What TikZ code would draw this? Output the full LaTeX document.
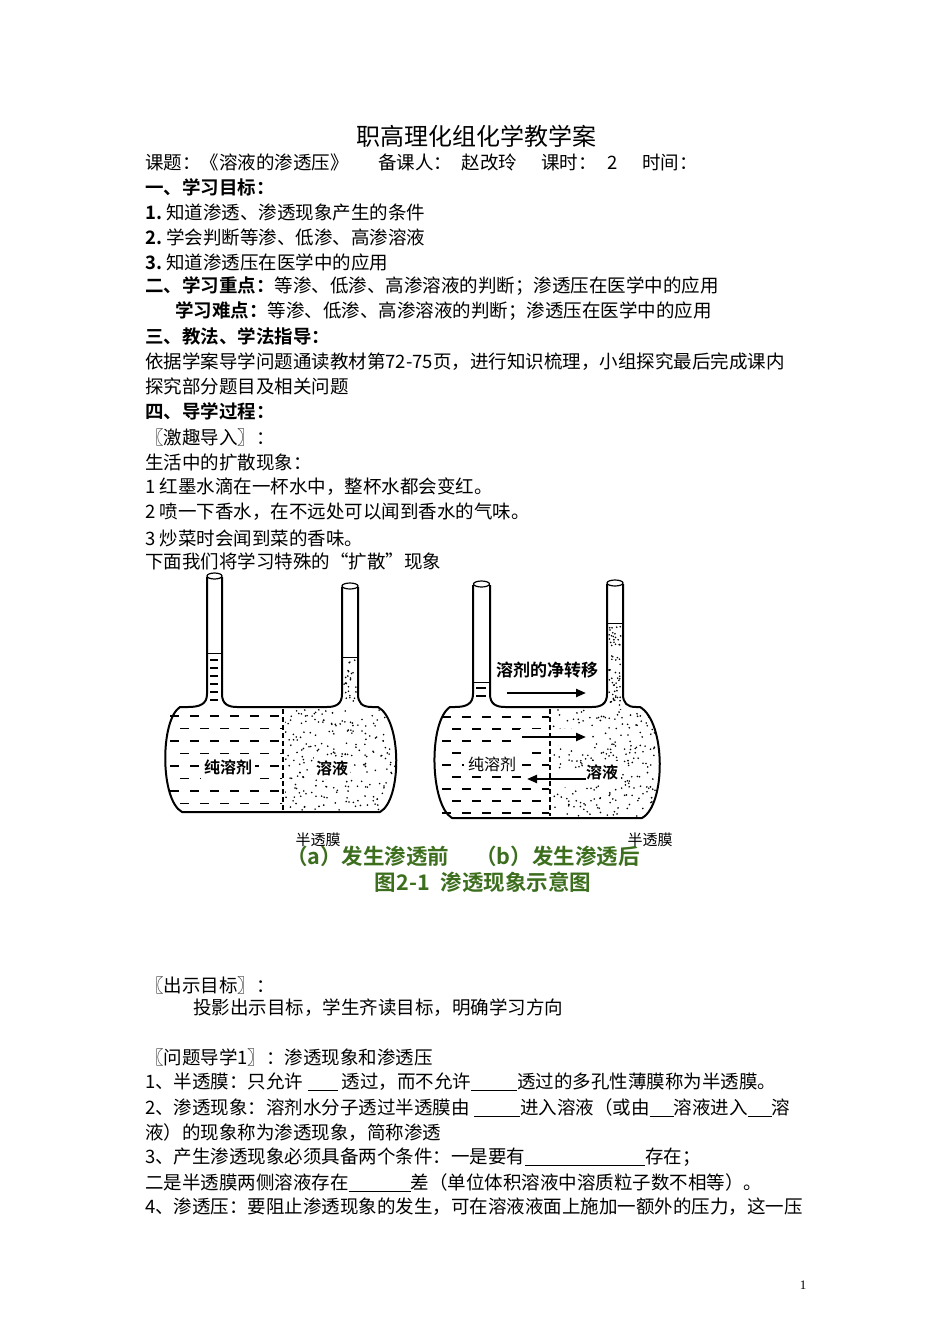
\documentclass[tikz,border=0pt]{standalone}
\usepackage{fontspec}
\usetikzlibrary{arrows.meta}
\setmainfont{Noto Sans CJK SC}[BoldFont={Noto Sans CJK SC Bold}]
\newfontfamily\serifnum{Liberation Serif}
\definecolor{capgreen}{RGB}{60,110,30}
\newcommand{\blank}[1]{\rule[-2pt]{#1pt}{0.7pt}}
\begin{document}
\begin{tikzpicture}[x=1pt,y=-1pt,
  ln/.style={anchor=west,inner sep=0pt,font=\fontsize{18.5}{20}\selectfont},
  lbl/.style={inner sep=0pt,font=\bfseries\fontsize{16}{17}\selectfont},
  vessel/.style={line width=2pt,line join=round},
  arr/.style={line width=2.2pt,-{Triangle[length=10pt,width=8pt]}},
  captxt/.style={inner sep=0pt,text=capgreen,font=\bfseries\fontsize{21.5}{22}\selectfont}]
\useasboundingbox[fill=white] (0,0) rectangle (950,1344);
% ---------- text above
\node[inner sep=0pt,font=\fontsize{24}{25}\selectfont] (title) at (476,136) {职高理化组化学教学案};
\node[ln] (l1) at (145,162) {课题：《溶液的渗透压》\hspace{1.6em}备课人：\hspace{0.5em}赵改玲\hspace{1.3em}课时：\hspace{0.6em}2\hspace{1.3em}时间：};
\node[ln] (l2) at (145,187) {\bfseries 一、学习目标：};
\node[ln] (l3) at (145,212) {\textbf{1.}\ 知道渗透、渗透现象产生的条件};
\node[ln] (l4) at (145,237) {\textbf{2.}\ 学会判断等渗、低渗、高渗溶液};
\node[ln] (l5) at (145,262) {\textbf{3.}\ 知道渗透压在医学中的应用};
\node[ln] (l6) at (145,286) {\textbf{二、学习重点：}等渗、低渗、高渗溶液的判断；渗透压在医学中的应用};
\node[ln] (l7) at (175,311) {\textbf{学习难点：}等渗、低渗、高渗溶液的判断；渗透压在医学中的应用};
\node[ln] (l8) at (145,336) {\bfseries 三、教法、学法指导：};
\node[ln] (l9) at (145,362) {依据学案导学问题通读教材第72-75页，进行知识梳理，小组探究最后完成课内};
\node[ln] (l10) at (145,386) {探究部分题目及相关问题};
\node[ln] (l11) at (145,411) {\bfseries 四、导学过程：};
\node[ln] (l12) at (145,437) {〖激趣导入〗：};
\node[ln] (l13) at (145,462) {生活中的扩散现象：};
\node[ln] (l14) at (145,487) {1 红墨水滴在一杯水中，整杯水都会变红。};
\node[ln] (l15) at (145,512) {2 喷一下香水，在不远处可以闻到香水的气味。};
\node[ln] (l16) at (145,538) {3 炒菜时会闻到菜的香味。};
\node[ln] (l17) at (145,561) {下面我们将学习特殊的“扩散”现象};
% ---------- figure (a)
\pgfmathsetseed{7}
\begin{scope}
\clip (165,709) rectangle (282,810);
\foreach \r in {0,...,7}{
  \foreach \c in {0,...,5}{
    \pgfmathsetmacro\xx{170+\c*20+mod(\r,2)*10}
    \draw[line width=1.3pt] (\xx,{716+\r*12.5}) -- ++(9,0);
  }}
\end{scope}
\fill[white] (201,756) rectangle (255,780);
\begin{scope}
\clip (180,707) .. controls (160,720) and (160,800) .. (182,812) -- (380,812)
  .. controls (402,800) and (402,720) .. (378,707) -- cycle;
\clip (285,709) rectangle (396,810);
\foreach \i in {1,...,230}{\fill ({285+rnd*111},{709+rnd*101}) circle (0.9);}
\end{scope}
\fill[white] (314,757) rectangle (350,779);
\foreach \y in {660,668,676,684,692,700}{\draw[line width=1.2pt] (210,\y) -- (218,\y);}
\foreach \i in {1,...,25}{\fill ({344+rnd*12},{660+rnd*45}) circle (0.9);}
\draw[line width=1pt] (208,653) -- (221,653);
\draw[line width=1pt] (343,657) -- (357,657);
\draw[vessel] (222,577) -- (222,694) .. controls (222,704) and (228,707) .. (237,707)
  -- (327,707) .. controls (336,707) and (342,704) .. (342,694) -- (342,587);
\draw[vessel] (207,577) -- (207,694) .. controls (207,704) and (200,707) .. (188,707) -- (180,707)
  .. controls (160,720) and (160,800) .. (182,812) -- (380,812)
  .. controls (402,800) and (402,720) .. (378,707) -- (372,707)
  .. controls (362,707) and (358,703) .. (358,694) -- (358,587);
\draw[line width=1.2pt] (214.5,576) ellipse (7.5 and 3);
\draw[line width=1.2pt] (350,586) ellipse (8 and 3);
\draw[line width=1.5pt,dash pattern=on 5pt off 3pt] (283,709) -- (283,811);
\node[lbl] (a1) at (228,767) {纯溶剂};
\node[lbl] (a2) at (332,768) {溶液};
% ---------- figure (b)
\begin{scope}
\clip (437,709) rectangle (549,815);
\foreach \r in {0,...,8}{
  \foreach \c in {0,...,5}{
    \pgfmathsetmacro\xx{442+\c*20+mod(\r,2)*10}
    \draw[line width=1.3pt] (\xx,{717+\r*12}) -- ++(9,0);
  }}
\end{scope}
\fill[white] (464,751) rectangle (521,776);
\begin{scope}
\clip (450,707) .. controls (428,722) and (430,805) .. (452,818) -- (642,818)
  .. controls (666,805) and (666,722) .. (640,707) -- cycle;
\clip (552,709) rectangle (660,816);
\foreach \i in {1,...,260}{\fill ({552+rnd*108},{709+rnd*107}) circle (0.9);}
\end{scope}
\fill[white] (584,761) rectangle (621,783);
\fill[white] (520,729) rectangle (590,745);
\fill[white] (524,771) rectangle (590,787);
\foreach \y in {688,696}{\draw[line width=1.2pt] (476,\y) -- (486,\y);}
\foreach \i in {1,...,60}{\fill ({609+rnd*12},{626+rnd*80}) circle (0.9);}
\draw[line width=1pt] (474,682) -- (489,682);
\draw[line width=1pt] (608,623) -- (622,623);
\draw[vessel] (490,585) -- (490,694) .. controls (490,704) and (496,707) .. (505,707)
  -- (592,707) .. controls (601,707) and (607,704) .. (607,694) -- (607,584);
\draw[vessel] (473,585) -- (473,694) .. controls (473,704) and (466,707) .. (455,707) -- (450,707)
  .. controls (428,722) and (430,805) .. (452,818) -- (642,818)
  .. controls (666,805) and (666,722) .. (640,707) -- (636,707)
  .. controls (627,707) and (623,703) .. (623,694) -- (623,584);
\draw[line width=1.2pt] (481.5,584) ellipse (8 and 3);
\draw[line width=1.2pt] (615,583) ellipse (8 and 3);
\draw[line width=1.5pt,dash pattern=on 5pt off 3pt] (550,709) -- (550,816);
\node[lbl,font=\bfseries\fontsize{17}{18}\selectfont] (bt) at (547,670) {溶剂的净转移};
\node[lbl,font=\fontsize{16}{17}\selectfont] (b1) at (492,764) {纯溶剂};
\node[lbl] (b2) at (602,772) {溶液};
\coordinate (t1) at (507,693); \coordinate (t2) at (586,693);
\coordinate (r1) at (522,737); \coordinate (r2) at (586,737);
\coordinate (q1) at (586,779); \coordinate (q2) at (527,779);
\draw[arr] (t1) -- (t2);
\draw[arr] (r1) -- (r2);
\draw[arr] (q1) -- (q2);
% captions
\node[captxt,anchor=west] (capa) at (286,856) {（a）发生渗透前\hspace{1.2em}（b）发生渗透后};
\node[inner sep=0pt,font=\fontsize{15}{16}\selectfont] (m1) at (318,840) {半透膜};
\node[inner sep=0pt,font=\fontsize{15}{16}\selectfont] (m2) at (650,840) {半透膜};
\node[captxt] (capb) at (483,882) {图2-1\hspace{0.5em}渗透现象示意图};
% ---------- text below
\node[ln] (n1) at (145,985) {〖出示目标〗：};
\node[ln] (n2) at (193,1008) {投影出示目标，学生齐读目标，明确学习方向};
\node[ln] (n3) at (145,1057) {〖问题导学1〗：渗透现象和渗透压};
\node[ln] (n4) at (145,1082) {1、半透膜：只允许 \blank{30} 透过，而不允许\blank{46}透过的多孔性薄膜称为半透膜。};
\node[ln] (n5) at (145,1108) {2、渗透现象：溶剂水分子透过半透膜由 \blank{46}进入溶液（或由\blank{24}溶液进入\blank{24}溶};
\node[ln] (n6) at (145,1133) {液）的现象称为渗透现象，简称渗透};
\node[ln] (n7) at (145,1157) {3、产生渗透现象必须具备两个条件：一是要有\blank{120}存在；};
\node[ln] (n8) at (145,1183) {二是半透膜两侧溶液存在\blank{62}差（单位体积溶液中溶质粒子数不相等）。};
\node[ln] (n9) at (145,1207) {4、渗透压：要阻止渗透现象的发生，可在溶液液面上施加一额外的压力，这一压};
\node[inner sep=0pt,font=\serifnum\fontsize{13}{14}\selectfont] (pg) at (803,1285) {1};
\end{tikzpicture}
\end{document}
